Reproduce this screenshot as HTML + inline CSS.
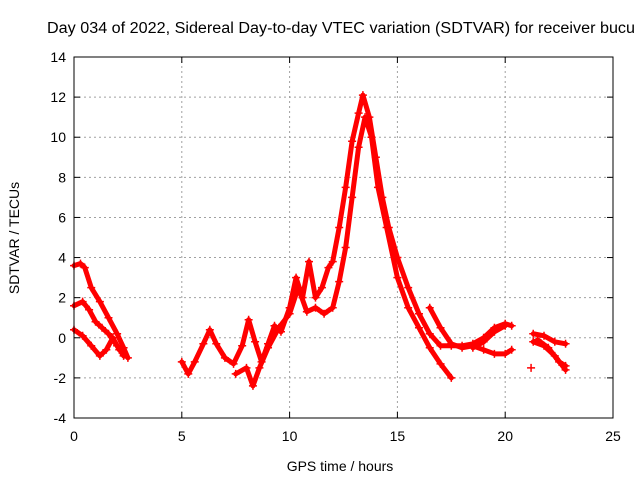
<!DOCTYPE html>
<html><head><meta charset="utf-8"><style>
html,body{margin:0;padding:0;background:#fff;}
svg{display:block;font-family:"Liberation Sans",sans-serif;}
</style></head><body>
<svg id="chart" width="640" height="480" viewBox="0 0 640 480">
<rect width="640" height="480" fill="#fff"/>
<text x="47" y="33" font-size="15.5" textLength="588" lengthAdjust="spacingAndGlyphs" fill="#000">Day 034 of 2022, Sidereal Day-to-day VTEC variation (SDTVAR) for receiver bucu</text>
<g id="grid"></g>
<g id="series"></g>
<rect x="74" y="57" width="539" height="361" fill="none" stroke="#000" stroke-width="1"/>
<g id="ticks"></g>
<text x="340" y="471" font-size="14" text-anchor="middle">GPS time / hours</text>
<text transform="translate(19,238) rotate(-90)" font-size="14" text-anchor="middle">SDTVAR / TECUs</text>
</svg>
<script>
const xTicks=[0,5,10,15,20,25];
const yTicks=[-4,-2,0,2,4,6,8,10,12,14];
const trackA=[[0,3.6],[0.3,3.7],[0.5,3.5],[0.8,2.5],[1.2,1.8],[1.6,1.0],[2.0,0.2],[2.3,-0.5],[2.5,-1.0]];
const trackB=[[0,1.6],[0.4,1.8],[0.7,1.4],[1.0,0.8],[1.3,0.5],[1.6,0.2],[2.0,-0.4],[2.3,-0.9]];
const trackC=[[0,0.4],[0.4,0.1],[0.8,-0.4],[1.2,-0.9],[1.5,-0.6],[1.8,0],[2.1,-0.6]];
const trackD=[[5.0,-1.2],[5.3,-1.8],[5.6,-1.2],[6.0,-0.3],[6.3,0.4],[6.6,-0.3],[7.0,-1.0],[7.4,-1.3],[7.8,-0.4],[8.1,0.9],[8.4,-0.2],[8.7,-1.2],[9.0,-0.3],[9.3,0.6],[9.6,0.3],[10.0,1.5],[10.3,3.0],[10.6,2.0],[10.9,3.8],[11.2,2.0],[11.5,2.5],[11.8,3.5],[12.0,3.8],[12.3,5.5],[12.6,7.5],[12.9,9.8],[13.2,11.2],[13.4,12.1],[13.7,11.0],[14.0,9.0],[14.3,7.0],[14.6,5.5],[15.0,4.0],[15.5,2.5],[16.0,1.2],[16.5,0.2],[17.0,-0.4],[17.5,-0.4],[18,-0.4],[18.5,-0.3],[19,0],[19.5,0.5],[20,0.7],[20.3,0.6]];
const trackE=[[7.5,-1.8],[8.0,-1.5],[8.3,-2.4],[8.6,-1.5],[9.0,-0.5],[9.5,0.5],[10.0,1.2],[10.4,2.5],[10.8,1.3],[11.2,1.5],[11.6,1.2],[12.0,1.5],[12.3,2.8],[12.6,4.5],[12.9,7.0],[13.2,9.5],[13.5,11.0],[13.8,10.0],[14.1,7.5],[14.5,5.5],[15,3.0],[15.5,1.5],[16,0.5],[16.5,-0.5],[17,-1.3],[17.5,-2.0]];
const trackF=[[16.5,1.5],[17,0.5],[17.5,-0.3],[18,-0.5],[18.5,-0.4],[19,-0.6],[19.5,-0.8],[20,-0.8],[20.3,-0.6]];
const trackG=[[18.5,-0.5],[19,-0.2],[19.5,0.3],[20,0.6]];
const trackH=[[21.3,0.2],[21.8,0.1],[22.3,-0.2],[22.8,-0.3]];
const trackI=[[21.3,-0.2],[21.8,-0.4],[22.3,-0.9],[22.8,-1.6]];
const trackJ=[[21.5,-0.1],[22,-0.5],[22.5,-1.2],[22.8,-1.4]];
const isolated=[[21.2,-1.5]];
const tracks=[trackA,trackB,trackC,trackD,trackE,trackF,trackG,trackH,trackI,trackJ,isolated];

const X0=74,X1=613,Y0=418,Y1=57;
const xs=v=>X0+(v-0)/(25-0)*(X1-X0);
const ys=v=>Y0-(v+4)/(14+4)*(Y0-Y1);
const NS="http://www.w3.org/2000/svg";
const grid=document.getElementById('grid'),ticks=document.getElementById('ticks'),ser=document.getElementById('series');
function mk(tag,attrs,parent){const e=document.createElementNS(NS,tag);for(const k in attrs)e.setAttribute(k,attrs[k]);parent.appendChild(e);return e;}
xTicks.forEach(t=>{const x=xs(t);
 if(t>0&&t<25){const g=mk('line',{x1:x,x2:x,y1:Y0,y2:Y1,stroke:'#a0a0a0','stroke-dasharray':'2,3','stroke-width':1},grid);
 
 }
 mk('line',{x1:x,x2:x,y1:Y0,y2:Y0-6,stroke:'#000'},ticks);
 mk('line',{x1:x,x2:x,y1:Y1,y2:Y1+6,stroke:'#000'},ticks);
 const l=mk('text',{x:x,y:Y0+23,'font-size':14,'text-anchor':'middle'},ticks);l.textContent=t;
 
 
});
yTicks.forEach(t=>{const y=ys(t);
 if(t>-4&&t<14){const g=mk('line',{x1:X0,x2:X1,y1:y,y2:y,stroke:'#a0a0a0','stroke-dasharray':'2,3','stroke-width':1},grid);
 
 }
 mk('line',{x1:X0,x2:X0+6,y1:y,y2:y,stroke:'#000'},ticks);
 mk('line',{x1:X1,x2:X1-6,y1:y,y2:y,stroke:'#000'},ticks);
 const l=mk('text',{x:X0-8,y:y+5,'font-size':14,'text-anchor':'end'},ticks);l.textContent=t;
 
 
});
tracks.forEach(tr=>{
 if(tr.length>1){const p=mk('polyline',{points:tr.map(d=>xs(d[0])+','+ys(d[1])).join(' '),fill:'none',stroke:'#ff0000','stroke-width':5,'stroke-linejoin':'round','stroke-linecap':'round'},ser);
 
 }
 tr.forEach(d=>{const x=xs(d[0]),y=ys(d[1]);
  const m=mk('path',{d:`M${x-4},${y}H${x+4}M${x},${y-4}V${y+4}`,stroke:'#ff0000','stroke-width':1.5},ser);
  
  
 });
});
</script>
</body></html>
